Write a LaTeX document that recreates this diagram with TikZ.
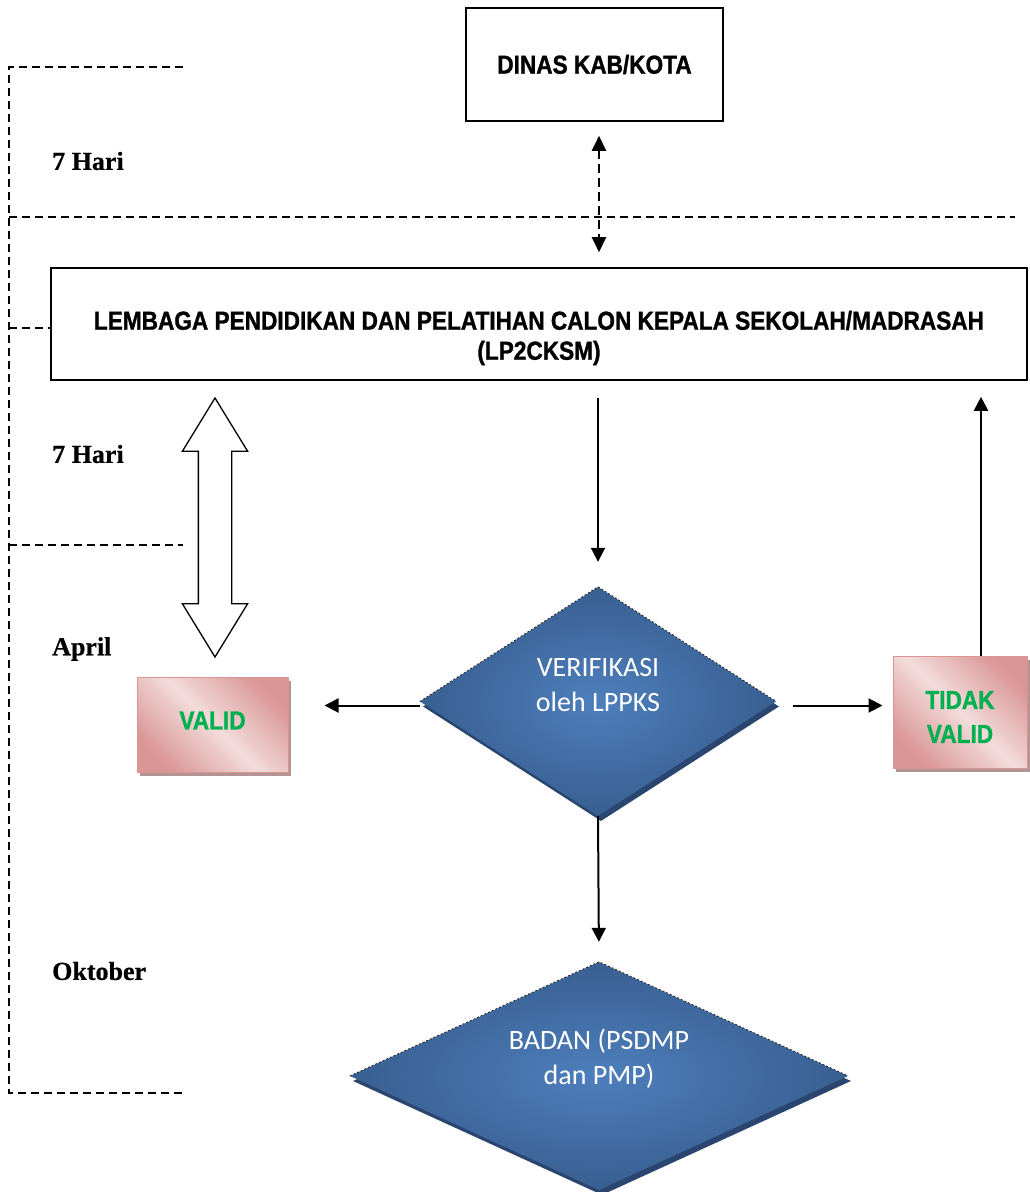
\documentclass[tikz,border=0pt]{standalone}
\usepackage{fontspec}
\setmainfont[FakeBold=0.6]{Liberation Serif}
\newfontfamily\boxfont[FakeStretch=0.87, FakeBold=1.2]{Liberation Sans}
\newfontfamily\diafont{Carlito}
\usetikzlibrary{positioning}
\usetikzlibrary{shapes.geometric, shapes.arrows}
\usetikzlibrary{shadows}
\usetikzlibrary{arrows.meta}
\definecolor{dialight}{HTML}{4E7FBC}
\definecolor{diadark}{HTML}{385F91}
\definecolor{diashadow}{HTML}{2A4670}
\definecolor{pinklight}{HTML}{F2DCDB}
\definecolor{pinkdark}{HTML}{D99694}
\definecolor{pinkshadow}{HTML}{B39393}
\definecolor{validgreen}{HTML}{00B050}

\begin{document}
\begin{tikzpicture}[x=1pt, y=-1pt,
    box/.style={draw, line width=1.6pt, align=center, inner sep=0pt,
        font={\boxfont\bfseries\fontsize{26}{30}\selectfont}},
    tag/.style={anchor=west, inner sep=0pt, font={\bfseries\fontsize{26}{30}\selectfont}},
    decision/.style={diamond, inner sep=0pt, shading=radial,
        inner color=dialight, outer color=diadark,
        drop shadow={shadow xshift=3pt, shadow yshift=-5pt, fill=diashadow, opacity=1}},
    rim/.style={black!85, line width=0.9pt, dash pattern=on 2pt off 2pt},
    diatext/.style={text=white, align=center, inner sep=0pt,
        font={\diafont\fontsize{28}{35}\selectfont}},
    result/.style={draw=pinkdark, line width=1pt, align=center, inner sep=0pt,
        left color=pinkdark, right color=pinkdark, middle color=pinklight,
        shading angle=-45,
        drop shadow={shadow xshift=3pt, shadow yshift=-4pt, fill=pinkshadow, opacity=1},
        text=validgreen, font={\boxfont\bfseries\fontsize{26}{34}\selectfont}},
    resulttext/.style={align=center, inner sep=0pt, text=validgreen,
        font={\boxfont\bfseries\fontsize{26}{34}\selectfont}},
    link/.style={line width=2pt, -{Triangle[length=14pt,width=14pt]}},
    guide/.style={line width=1.3pt, dash pattern=on 8pt off 5pt}]

    \useasboundingbox (0,0) rectangle (1029,1192);

    % time line on the left
    \draw[guide] (183,67) -- (9,67) -- (9,1093) -- (183,1093);
    \draw[guide] (9,217) -- (1015,217);
    \draw[guide] (9,328) -- (51,328);
    \draw[guide] (9,545) -- (183,545);
    \node[tag] (hari1) at (52,161) {7 Hari};
    \node[tag] (hari2) at (52,454) {7 Hari};
    \node[tag] (april) at (52,649) {April};
    \node[tag] (oktober) at (52,971) {Oktober};

    % boxes
    \node[box, minimum width=257pt, minimum height=113pt] (dinas) at (594.5,64.5) {DINAS KAB/KOTA};
    \node[box, minimum width=976pt, minimum height=112pt] (lp) at (539,324) {};
    \node[box, draw=none] (lptext) at ([yshift=-14pt]lp.center)
        {LEMBAGA PENDIDIKAN DAN PELATIHAN CALON KEPALA SEKOLAH/MADRASAH\\(LP2CKSM)};

    \node[decision, minimum width=356pt, minimum height=229pt] (verif) at (598,701.5) {};
    \draw[rim] (verif.west) -- (verif.north) -- (verif.east);
    \node[diatext] (veriftext) at ([yshift=16pt]verif.center) {VERIFIKASI\\oleh LPPKS};
    \node[decision, minimum width=498pt, minimum height=228pt] (badan) at (599,1076) {};
    \draw[rim] (badan.west) -- (badan.north) -- (badan.east);
    \node[diatext] (badantext) at ([yshift=17pt]badan.center) {BADAN (PSDMP\\dan PMP)};

    \node[result, minimum width=151pt, minimum height=95pt] (valid) at (212.5,724.5) {};
    \node[resulttext] (validtext) at ([yshift=4pt]valid.center) {VALID};
    \node[result, minimum width=134pt, minimum height=112pt] (tidak) at (960,712) {};
    \node[resulttext] (tidaktext) at ([yshift=-5pt]tidak.center) {TIDAK\\VALID};

    \node[double arrow, draw, line width=1.3pt, rotate=90, inner xsep=0pt, inner ysep=16pt,
        minimum height=259pt, minimum width=64pt, double arrow head extend=16pt,
        double arrow tip angle=63] (sync) at (215,527.5) {};

    % connectors
    \draw[line width=2.3pt, dash pattern=on 9pt off 5pt,
        {Triangle[length=15pt,width=14pt]}-{Triangle[length=15pt,width=14pt]},
        shorten <=14pt, shorten >=15pt]
        ([xshift=4.5pt]dinas.south) -- ([xshift=4.5pt]dinas.south |- lp.north);
    \draw[link, shorten <=17pt, shorten >=25pt] (lp.south -| verif.north) -- (verif.north);
    \draw[link, shorten >=36pt] ([yshift=-4pt]verif.west) -- ([yshift=-4pt]verif.west -| valid.east);
    \draw[link, shorten <=17pt, shorten >=10pt] ([yshift=-4pt]verif.east) -- ([yshift=-4pt]verif.east -| tidak.west);
    \draw[link, shorten >=16pt] ([xshift=21pt]tidak.north) -- ([xshift=21pt]tidak.north |- lp.south);
    \draw[link, shorten >=20pt] (verif.south) -- (badan.north);
\end{tikzpicture}
\end{document}
